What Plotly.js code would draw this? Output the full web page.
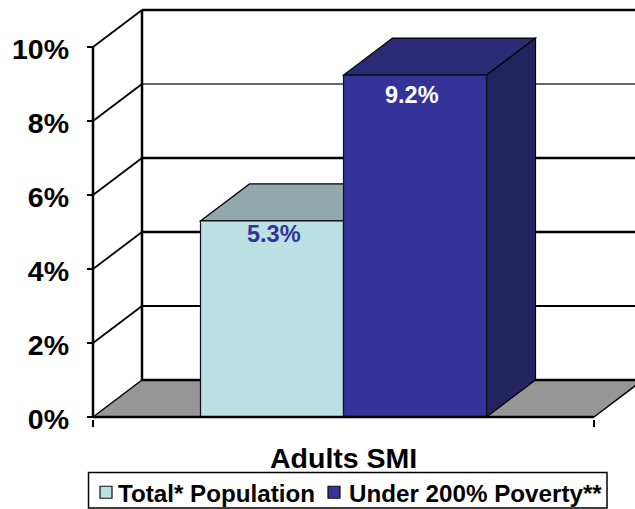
<!DOCTYPE html>
<html>
<head>
<meta charset="utf-8">
<script src="https://cdn.plot.ly/plotly-3.0.1.min.js"></script>
<style>html,body{margin:0;padding:0;background:#fff}</style>
</head>
<body>
<div id="chart" style="width:635px;height:509px"></div>
<script>
// Data
var seriesNames = ["Total* Population", "Under 200% Poverty**"];
var seriesValues = [5.3, 9.24];
var valueLabels = ["5.3%", "9.2%"];
var labelColors = ["#333399", "#ffffff"];
var categoryLabel = "Adults SMI";
var tickValues = [0, 2, 4, 6, 8, 10];
var tickLabels = ["0%", "2%", "4%", "6%", "8%", "10%"];
// Style
var frontColors = ["#BAE0E3", "#333399"];
var topColors = ["#92A9AC", "#2A2A75"];
var sideColors = ["#7F9A9C", "#232360"];
var gridWidths = [2, 2.5, 2.5, 1.5, 2.5];

var PLOT_W = 548, PLOT_H = 414;
var unitX = 501, unitY = 37;          // pixels per axis unit
var depthX = 49 / unitX, depthY = 1;  // oblique depth of the box
var barW = 143 / unitX;
var barStart = 107.5 / unitX;
var FONT = "'Liberation Sans', Arial, sans-serif";

function poly(pts, fill, lw, lc) {
  var path = pts.map(function (p, i) { return (i ? "L" : "M") + p[0] + "," + p[1]; }).join(" ") + " Z";
  return {type: "path", xref: "x", yref: "y", layer: "below", path: path, fillcolor: fill,
          line: {color: lc || "#000", width: lw === undefined ? 1 : lw}};
}
function seg(x0, y0, x1, y1, w, c, layer) {
  return {type: "line", xref: "x", yref: "y", layer: layer || "below", x0: x0, y0: y0, x1: x1, y1: y1,
          line: {color: c || "#000", width: w}};
}

var xMax = (PLOT_W - 6) / unitX;
var xEnd = 1 + depthX + 0.1;
var shapes = [];
// floor
shapes.push(poly([[0, 0], [1, 0], [1 + depthX, depthY], [depthX, depthY]], "#969696", 0));
// back wall edges and gridlines
shapes.push(seg(depthX, depthY, xEnd, depthY, 2.5));
tickValues.forEach(function (t, i) {
  if (t === 0) return;
  shapes.push(seg(depthX, t + depthY, xEnd, t + depthY, gridWidths[i - 1], i === 4 ? "#333" : "#000"));
  shapes.push(seg(0, t, depthX, t + depthY, 1.8));
});
shapes.push(seg(0, 0, depthX, depthY, 1.5));
shapes.push(seg(1, 0, 1 + depthX, depthY, 1.5));
shapes.push(seg(depthX, depthY, depthX, tickValues[5] + depthY, 2.5));
// bar depth faces
var barLefts = seriesValues.map(function (v, i) { return barStart + i * barW; });
seriesValues.forEach(function (v, i) {
  var l = barLefts[i], r = l + barW;
  shapes.push(poly([[l, v], [r, v], [r + depthX, v + depthY], [l + depthX, v + depthY]], topColors[i], 1.2));
  shapes.push(poly([[r, 0], [r, v], [r + depthX, v + depthY], [r + depthX, depthY]], sideColors[i], 1.2));
});
// front axes on top of everything
shapes.push(seg(0, 0, 0, tickValues[5], 2.5, "#000", "above"));
shapes.push(seg(0, 0, 1, 0, 2.5, "#000", "above"));
// legend box
shapes.push({type: "rect", xref: "paper", yref: "paper", layer: "above",
  x0: (88.5 - 87) / PLOT_W, x1: (607 - 87) / PLOT_W, y0: (419 - 508) / PLOT_H, y1: (419 - 472.5) / PLOT_H,
  line: {color: "#000", width: 1.5}, fillcolor: "rgba(0,0,0,0)"});

var legendIds = ["legend", "legend2"];
var traces = seriesValues.map(function (v, i) {
  return {type: "bar", name: seriesNames[i], legend: legendIds[i], x: [barLefts[i] + barW / 2], y: [v], width: [barW],
          marker: {color: frontColors[i], line: {color: "#111", width: 1.2}},
          hoverinfo: "skip"};
});

var labelDrop = [3, 10];
var labelShift = [2, -3];
var annotations = seriesValues.map(function (v, i) {
  return {xref: "x", yref: "y", x: barLefts[i] + barW / 2, y: v, xanchor: "center", yanchor: "top",
          xshift: labelShift[i], yshift: -labelDrop[i] + 5, text: valueLabels[i], showarrow: false,
          font: {family: FONT, size: 23.5, weight: "bold", color: labelColors[i]}};
});
annotations.push({xref: "x", yref: "paper", x: 0.5, y: 0, xanchor: "center", yanchor: "top", yshift: -21,
  text: categoryLabel, showarrow: false, font: {family: FONT, size: 28.5, weight: "bold", color: "#000"}});

function legendAt(px) {
  return {orientation: "h", x: (px - 87) / PLOT_W, xanchor: "left", y: (419 - 470) / PLOT_H, yanchor: "top",
          bgcolor: "rgba(255,255,255,0)", borderwidth: 0,
          font: {family: FONT, size: 24.2, weight: "bold", color: "#000"}};
}

var layout = {
  width: 635, height: 509, autosize: false,
  margin: {l: 87, r: 0, t: 5, b: 90, pad: 0, autoexpand: false},
  paper_bgcolor: "#fff", plot_bgcolor: "#fff",
  barmode: "overlay", bargap: 0,
  xaxis: {range: [-6 / unitX, xMax], tickmode: "array", tickvals: [0, 1], ticktext: ["", ""],
          ticks: "outside", ticklen: 7, tickwidth: 1.5, tickcolor: "#000",
          showgrid: false, zeroline: false, showline: false, fixedrange: true},
  yaxis: {range: [-2 / unitY, 412 / unitY], tickmode: "array", tickvals: tickValues, ticktext: tickLabels,
          ticks: "inside", ticklen: 6, tickwidth: 1.5, tickcolor: "#000", ticklabelstandoff: 17,
          tickfont: {family: FONT, size: 28.5, weight: "bold", color: "#000"},
          showgrid: false, zeroline: false, showline: false, fixedrange: true},
  legend: legendAt(86),
  legend2: legendAt(314),
  shapes: shapes,
  annotations: annotations,
  showlegend: true
};
function polish() {
  var gd = document.getElementById("chart");
  // tighten the gap between each legend swatch and its text
  gd.querySelectorAll(".legendtext").forEach(function (t) { t.setAttribute("transform", "translate(-8,0)"); });
  gd.querySelectorAll(".legend2text").forEach(function (t) { t.setAttribute("transform", "translate(-5,0)"); });
  // tick labels sit slightly below their ticks
  gd.querySelectorAll("g.ytick").forEach(function (t) { t.setAttribute("transform", "translate(0,2)"); });
}
Plotly.newPlot("chart", traces, layout, {displayModeBar: false, staticPlot: true}).then(function () {
  polish();
  setTimeout(polish, 0);
  setTimeout(polish, 150);
});
</script>
</body>
</html>
